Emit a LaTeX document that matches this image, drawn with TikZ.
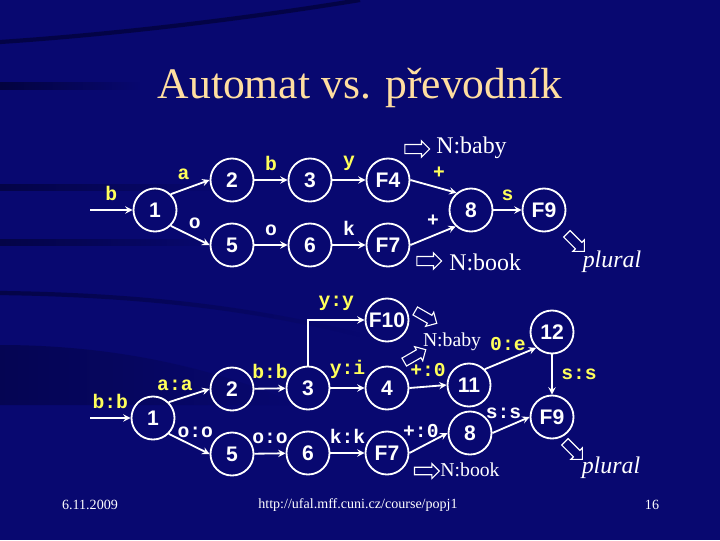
\documentclass[tikz,border=0pt]{standalone}
\usepackage{fontspec}
\setmainfont{Liberation Serif}
\setsansfont{Liberation Sans}
\setmonofont{Liberation Mono}
\usepackage{xcolor}
\usetikzlibrary{shapes,arrows,positioning,fadings}

\definecolor{slidebg}{RGB}{8,8,112}
\definecolor{streak}{RGB}{0,0,30}
\definecolor{titlecol}{RGB}{255,222,160}
\definecolor{hilite}{RGB}{255,255,90}

\begin{document}
\begin{tikzpicture}[
  x=0.025cm, y=-0.025cm,
  state/.style={circle, draw=white, line width=1.3pt, minimum size=1.075cm, inner sep=0pt, text=white, font=\sffamily\bfseries\fontsize{15}{18}\selectfont},
  arrow/.style={->, draw=white, line width=1.3pt, >=stealth},
  lbl/.style={font=\ttfamily\bfseries\fontsize{14}{16}\selectfont, text=white, inner sep=2pt, above=4pt},
  hot/.style={lbl, text=hilite},
  hollow/.style={single arrow, draw=white, line width=0.8pt, minimum height=0.62cm, inner xsep=0pt, inner ysep=0.1cm, single arrow head extend=0.09cm},
  note/.style={text=white, inner sep=0pt, font=\fontsize{17}{20}\selectfont},
  smallnote/.style={note, font=\fontsize{14}{17}\selectfont},
  foot/.style={text=white, inner sep=0pt, font=\fontsize{10}{12}\selectfont}
]
  % slide background
  \useasboundingbox (0,0) rectangle (720,540);
  \clip (0,0) rectangle (720,540);
  \fill[slidebg] (0,0) rectangle (720,540);
  \draw[streak, line width=3pt, opacity=.5] (0,42) .. controls (120,34) and (250,18) .. (360,0);
  \fill[streak, opacity=.6, path fading=east] (0,82) rectangle (140,90);
  \fill[streak, opacity=.5, path fading=east] (0,184) rectangle (220,191);
  \fill[streak, opacity=.5, path fading=east] (0,239) rectangle (220,246);
  \draw[streak, line width=3pt, opacity=.5, path fading=east] (0,293) .. controls (150,295) and (260,310) .. (360,335);
  \fill[streak, opacity=.35, path fading=east] (0,345) .. controls (120,345) and (220,370) .. (300,405) -- (0,405) -- cycle;

  \node[font=\fontsize{31}{36}\selectfont, text=titlecol] (title) at (360,88) {Automat vs. převodník};

  % automaton
  \coordinate (ain) at (90,210);
  \node[state] (a1) at (155,210) {1};
  \node[state] (a2) at (232,180) {2};
  \node[state] (a5) at (232,245) {5};
  \node[state] (a3) at (310,180) {3};
  \node[state] (a6) at (310,245) {6};
  \node[state] (aF4) at (388,180) {F4};
  \node[state] (aF7) at (388,245) {F7};
  \node[state] (a8) at (471,210) {8};
  \node[state] (aF9) at (544,210) {F9};

  \draw[arrow] (ain) -- node[hot]{b} (a1);
  \draw[arrow] (a1.45) -- node[hot, pos=.33]{a} (a2.west);
  \draw[arrow] (a1.-45) -- node[lbl, pos=.62]{o} (a5.west);
  \draw[arrow] (a2) -- node[hot]{b} (a3);
  \draw[arrow] (a5) -- node[lbl]{o} (a6);
  \draw[arrow] (a3) -- node[hot]{y} (aF4);
  \draw[arrow] (a6) -- node[lbl]{k} (aF7);
  \draw[arrow] (aF4.east) -- node[hot, pos=.62]{+} (a8.130);
  \draw[arrow] (aF7.east) -- node[lbl, pos=.5]{+} (a8.-133);
  \draw[arrow] (a8) -- node[hot]{s} (aF9);

  \node[hollow] (ab) at (415,149) {};
  \node[note, anchor=west] (abtext) at (436,148) {N:baby};
  \node[hollow] (ak) at (427,261) {};
  \node[note, anchor=west] (aktext) at (449,262) {N:book};
  \node[hollow, rotate=-45] (ap) at (574,241) {};
  \node[note, font=\fontsize{17}{20}\selectfont\itshape] (aptext) at (612,262) {plural};

  % transducer
  \coordinate (tin) at (90,418);
  \node[state] (t1) at (153,418) {1};
  \node[state] (t2) at (232,389) {2};
  \node[state] (t5) at (232,454) {5};
  \node[state] (t3) at (308,388) {3};
  \node[state] (t6) at (308,453) {6};
  \node[state] (tF10) at (387,320) {F10};
  \node[state] (t4) at (387,388) {4};
  \node[state] (tF7) at (387,453) {F7};
  \node[state] (t11) at (469,385) {11};
  \node[state] (t8) at (470,433) {8};
  \node[state] (t12) at (552,332) {12};
  \node[state] (tF9) at (552,417) {F9};

  \draw[arrow] (tin) -- node[hot]{b:b} (t1);
  \draw[arrow] (t1.45) -- node[hot, pos=.15]{a:a} (t2.west);
  \draw[arrow] (t1.-45) -- node[lbl, pos=.65]{o:o} (t5.west);
  \draw[arrow] (t2) -- node[hot]{b:b} (t3);
  \draw[arrow] (t5) -- node[lbl]{o:o} (t6);
  \draw[arrow] (t3.north) |- node[hot, pos=.75]{y:y} (tF10.west);
  \draw[arrow] (t3) -- node[hot]{y:i} (t4);
  \draw[arrow] (t6) -- node[lbl]{k:k} (tF7);
  \draw[arrow] (t4.east) -- node[hot]{+:0} (t11.west);
  \draw[arrow] (tF7.east) -- node[lbl, pos=.3]{+:0} (t8.west);
  \draw[arrow] (t11.45) -- node[hot, pos=.45]{0:e} (t12.225);
  \draw[arrow] (t12) -- node[hot, right=4pt]{s:s} (tF9);
  \draw[arrow] (t8.east) -- node[lbl, pos=.3]{s:s} (tF9.west);

  \node[hollow, rotate=-30] (tb1) at (424,316) {};
  \node[hollow, rotate=30] (tb2) at (413,357) {};
  \node[smallnote] (tbtext) at (452,342) {N:baby};
  \node[hollow, inner ysep=0.08cm] (tk) at (425,471) {};
  \node[smallnote] (tktext) at (470,470) {N:book};
  \node[hollow, rotate=-45] (tp) at (572,449) {};
  \node[note, font=\fontsize{17}{20}\selectfont\itshape] (tptext) at (611,468) {plural};

  % footer
  \node[foot] (date) at (90,505) {6.11.2009};
  \node[foot] (url) at (358,505) {http://ufal.mff.cuni.cz/course/popj1};
  \node[foot] (page) at (652,505) {16};
\end{tikzpicture}
\end{document}
